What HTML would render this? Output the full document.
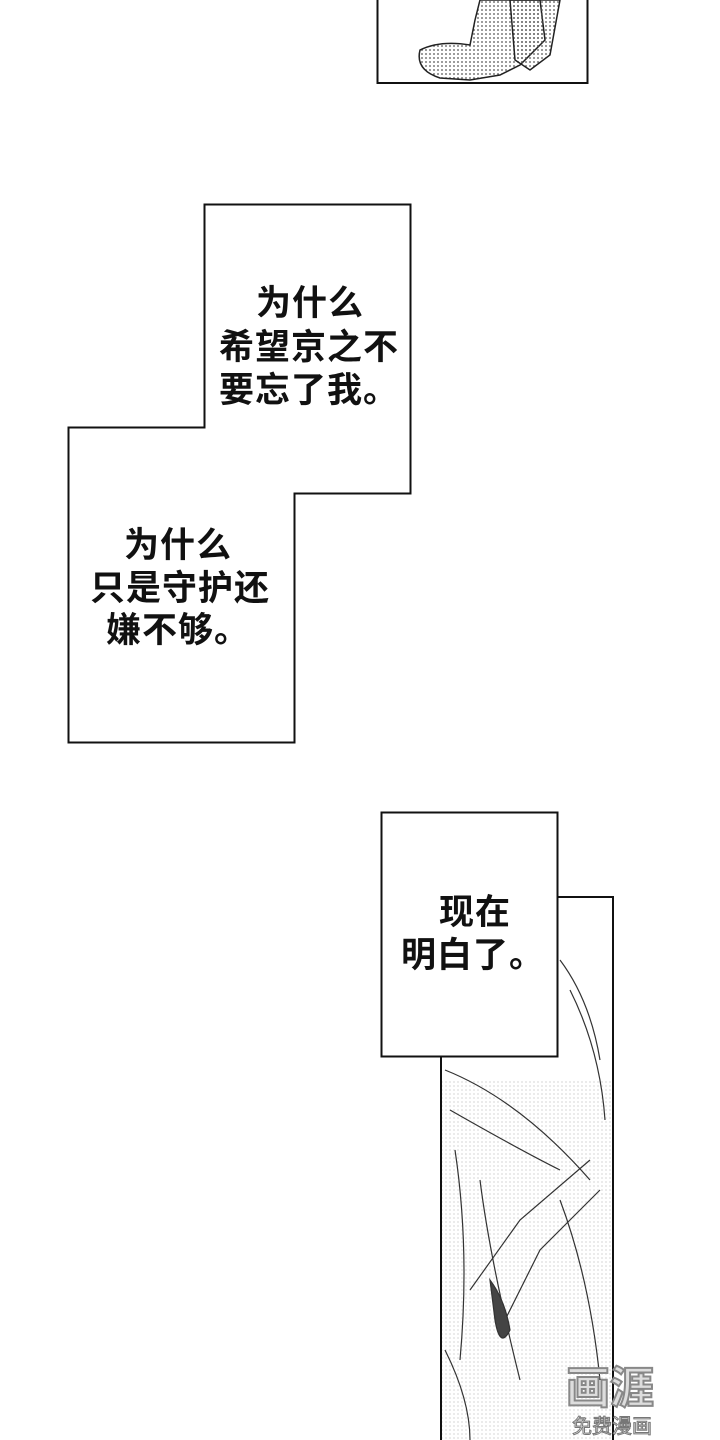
<!DOCTYPE html>
<html><head><meta charset="utf-8"><style>
html,body{margin:0;padding:0;background:#fff;}
body{width:720px;height:1440px;position:relative;overflow:hidden;font-family:"Liberation Sans","Noto Sans CJK SC",sans-serif;}
.t{position:absolute;font-size:35px;font-weight:700;color:#111;line-height:43px;white-space:nowrap;letter-spacing:1px;}
</style></head><body>
<svg width="720" height="1440" style="position:absolute;left:0;top:0">
<defs>
<pattern id="dots" width="4" height="4" patternUnits="userSpaceOnUse"><circle cx="2" cy="2" r="0.9" fill="#555"/></pattern>
</defs>
<rect x="377.5" y="-2" width="210" height="85" fill="#fff" stroke="#111" stroke-width="2"/>
<path d="M420 50 Q440 40 470 45 L475 20 L480 0 L540 0 L545 40 L520 65 L500 75 L470 80 L440 78 Q415 70 420 50 Z" fill="url(#dots)" stroke="#222" stroke-width="1.5"/>
<path d="M510 0 L515 60 L530 70 L550 55 L560 0 Z" fill="url(#dots)" stroke="#222" stroke-width="1.5"/>
<polygon points="204.5,204.5 410.5,204.5 410.5,493.5 294.5,493.5 294.5,742.5 68.5,742.5 68.5,427.5 204.5,427.5" fill="#fff" stroke="#111" stroke-width="2"/>
<rect x="441" y="897" width="172" height="545" fill="#fff" stroke="#111" stroke-width="2"/>
<rect x="441" y="1080" width="172" height="360" fill="url(#dots)" opacity="0.2"/>
<g stroke="#333" stroke-width="1.2" fill="none">
<path d="M560 960 Q590 1000 600 1060"/><path d="M570 990 Q600 1050 605 1120"/>
<path d="M445 1070 Q520 1100 590 1180"/><path d="M450 1110 Q520 1150 560 1170"/>
<path d="M590 1160 L520 1220 L470 1290"/><path d="M600 1190 L540 1250 L500 1330"/>
<path d="M455 1150 Q470 1250 460 1360"/><path d="M480 1180 Q490 1260 520 1380"/>
<path d="M490 1280 Q505 1300 510 1330 Q500 1350 495 1320 Z" fill="#444"/>
<path d="M445 1350 Q470 1400 470 1440"/><path d="M560 1200 Q590 1280 600 1380"/>
</g>
<rect x="441" y="897" width="172" height="545" fill="none" stroke="#111" stroke-width="2"/>
<rect x="381.5" y="812.5" width="176" height="244" fill="#fff" stroke="#111" stroke-width="2"/>
</svg>
<div class="t" style="left:256px;top:282px">为什么</div>
<div class="t" style="left:219px;top:326px">希望京之不</div>
<div class="t" style="left:219px;top:369px">要忘了我。</div>
<div class="t" style="left:124px;top:524px">为什么</div>
<div class="t" style="left:90px;top:567px">只是守护还</div>
<div class="t" style="left:106px;top:609px">嫌不够。</div>
<div class="t" style="left:439px;top:891px">现在</div>
<div class="t" style="left:401px;top:934px">明白了。</div>
<div style="position:absolute;left:566px;top:1352px;font-size:44px;font-weight:700;color:#ddd;-webkit-text-stroke:2px #888;font-family:'Noto Sans CJK SC',sans-serif;">画涯</div>
<div style="position:absolute;left:572px;top:1410px;font-size:20px;color:#eee;-webkit-text-stroke:1px #777;font-family:'Noto Sans CJK SC',sans-serif;">免费漫画</div>
</body></html>
